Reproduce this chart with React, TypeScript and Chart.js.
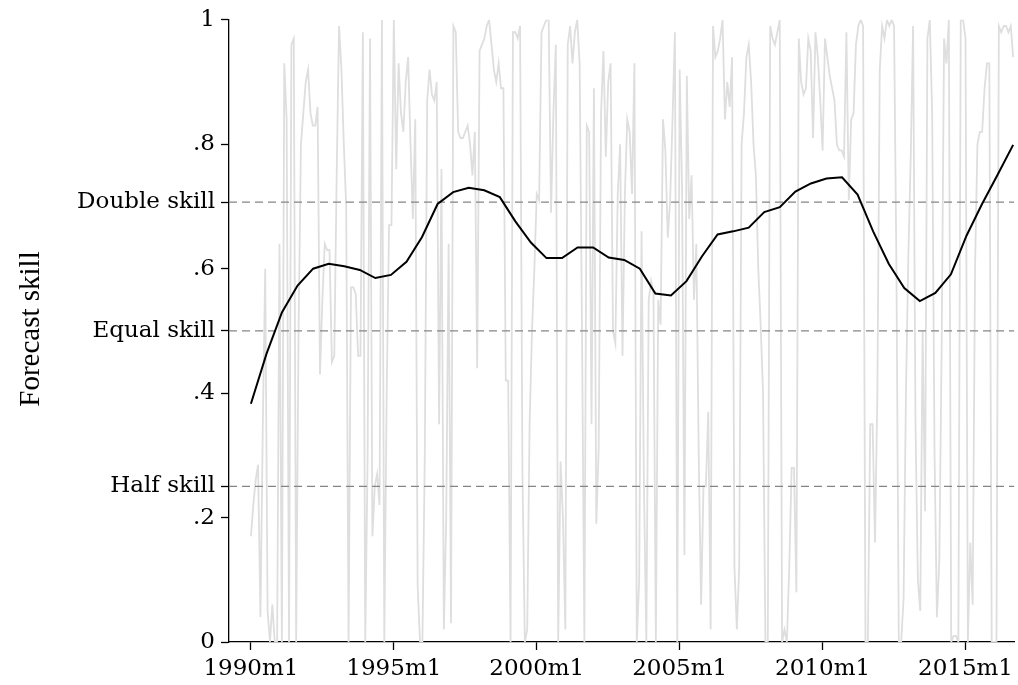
import React, { useEffect, useRef } from "react";
import { Chart, registerables } from "chart.js";

Chart.register(...registerables);

// Monthly forecast skill, one value per month starting 1990m1 (index 0 = 1990m1)
const monthlySkill: number[] = [
  0.17, 0.22, 0.26, 0.285, 0.04, 0.35, 0.60, 0.05, 0.0, 0.06,
  0.0, 0.0, 0.64, 0.0, 0.93, 0.84, 0.0, 0.96, 0.97, 0.0,
  0.50, 0.80, 0.85, 0.90, 0.92, 0.85, 0.83, 0.83, 0.86, 0.43,
  0.55, 0.64, 0.63, 0.63, 0.45, 0.46, 0.75, 0.99, 0.92, 0.80,
  0.70, 0.0, 0.57, 0.57, 0.56, 0.46, 0.46, 0.98, 0.0, 0.30,
  0.97, 0.17, 0.25, 0.27, 0.22, 1.0, 0.0, 0.40, 0.67, 0.67,
  1.0, 0.76, 0.93, 0.85, 0.82, 0.90, 0.94, 0.80, 0.68, 0.84,
  0.09, 0.0, 0.0, 0.30, 0.87, 0.92, 0.88, 0.87, 0.90, 0.35,
  0.76, 0.02, 0.20, 0.64, 0.03, 0.99, 0.98, 0.82, 0.81, 0.81,
  0.82, 0.83, 0.80, 0.75, 0.82, 0.44, 0.95, 0.96, 0.97, 0.99,
  1.0, 0.96, 0.92, 0.90, 0.93, 0.89, 0.89, 0.42, 0.42, 0.0,
  0.98, 0.98, 0.97, 0.99, 0.27, 0.0, 0.02, 0.35, 0.50, 0.60,
  0.72, 0.71, 0.98, 0.99, 1.0, 1.0, 0.69, 0.85, 0.96, 0.0,
  0.29, 0.20, 0.02, 0.96, 0.99, 0.93, 0.98, 1.0, 0.93, 0.50,
  0.0, 0.83, 0.82, 0.35, 0.89, 0.19, 0.31, 0.85, 0.95, 0.78,
  0.90, 0.93, 0.50, 0.48, 0.72, 0.80, 0.46, 0.72, 0.84, 0.82,
  0.72, 0.93, 0.0, 0.10, 0.66, 0.25, 0.0, 0.55, 0.58, 0.56,
  0.0, 0.55, 0.51, 0.84, 0.79, 0.65, 0.71, 0.84, 0.98, 0.0,
  0.92, 0.73, 0.14, 0.91, 0.68, 0.75, 0.55, 0.64, 0.30, 0.06,
  0.25, 0.25, 0.37, 0.02, 0.99, 0.94, 0.95, 0.97, 1.0, 0.84,
  0.90, 0.86, 0.94, 0.12, 0.02, 0.12, 0.80, 0.85, 0.94, 0.96,
  0.90, 0.80, 0.75, 0.60, 0.51, 0.40, 0.0, 0.0, 0.99, 0.97,
  0.96, 0.98, 1.0, 0.0, 0.02, 0.0, 0.12, 0.28, 0.28, 0.08,
  0.97, 0.90, 0.88, 0.89, 0.97, 0.95, 0.81, 0.98, 0.94, 0.87,
  0.79, 0.97, 0.94, 0.91, 0.89, 0.87, 0.80, 0.79, 0.79, 0.78,
  0.98, 0.71, 0.84, 0.85, 0.96, 0.99, 1.0, 0.99, 0.0, 0.0,
  0.35, 0.35, 0.16, 0.40, 0.92, 0.99, 0.97, 1.0, 0.99, 1.0,
  0.99, 0.60, 0.0, 0.0, 0.07, 0.40, 0.62, 0.78, 0.99, 0.35,
  0.10, 0.05, 0.50, 0.21, 0.97, 1.0, 0.85, 0.30, 0.04, 0.13,
  0.48, 0.97, 0.93, 1.0, 0.0, 0.01, 0.01, 0.0, 1.0, 1.0,
  0.97, 0.0, 0.16, 0.06, 0.60, 0.80, 0.82, 0.82, 0.89, 0.93,
  0.93, 0.0, 0.0, 0.0, 0.99, 0.98, 0.99, 0.99, 0.98, 0.99, 0.94,
];

// Smoothed curve (local polynomial evaluated on 50 grid points), month index
const smoothMonths: number[] = [
  0, 6.53, 13.06, 19.59, 26.12, 32.65, 39.18, 45.71, 52.24, 58.78,
  65.31, 71.84, 78.37, 84.9, 91.43, 97.96, 104.49, 111.02, 117.55, 124.08,
  130.61, 137.14, 143.67, 150.2, 156.73, 163.27, 169.8, 176.33, 182.86, 189.39,
  195.92, 202.45, 208.98, 215.51, 222.04, 228.57, 235.1, 241.63, 248.16, 254.69,
  261.22, 267.76, 274.29, 280.82, 287.35, 293.88, 300.41, 306.94, 313.47, 320,
];
const smoothSkill: number[] = [
  0.383, 0.463, 0.53, 0.573, 0.6, 0.608, 0.604, 0.598, 0.585, 0.59,
  0.611, 0.651, 0.704, 0.723, 0.73, 0.726, 0.715, 0.676, 0.642, 0.617,
  0.617, 0.634, 0.634, 0.618, 0.614, 0.6, 0.56, 0.557, 0.58, 0.62,
  0.655, 0.66, 0.666, 0.691, 0.699, 0.724, 0.737, 0.745, 0.747, 0.719,
  0.66, 0.608, 0.569, 0.548, 0.561, 0.591, 0.653, 0.704, 0.751, 0.799,
];

// Reference lines
const refValues: number[] = [0.25, 0.5, 0.7071];

// Axis ticks
const xTickMonths: number[] = [0, 60, 120, 180, 240, 300];
const xTickLabels: string[] = ["1990m1", "1995m1", "2000m1", "2005m1", "2010m1", "2015m1"];
const yTickValues: number[] = [0, 0.2, 0.25, 0.4, 0.5, 0.6, 0.7071, 0.8, 1];
const yTickLabels: string[] = ["0", ".2", "Half skill", ".4", "Equal skill", ".6", "Double skill", ".8", "1"];

const X_MIN = -9.2;
const X_MAX = 320.5;
const TICK_FONT = { family: "'DejaVu Serif', serif", size: 23 };

const titlePlugin = {
  id: "yTitle",
  afterDraw(chart: any) {
    const ctx = chart.ctx;
    ctx.save();
    ctx.translate(39, 329);
    ctx.rotate(-Math.PI / 2);
    ctx.font = "29px 'Liberation Serif', serif";
    ctx.fillStyle = "#000";
    ctx.textAlign = "center";
    ctx.textBaseline = "alphabetic";
    ctx.fillText("Forecast skill", 0, 0);
    ctx.restore();
  },
};

export default function App() {
  const canvasRef = useRef<HTMLCanvasElement | null>(null);

  useEffect(() => {
    if (!canvasRef.current) return;
    const greyPts = monthlySkill.map((v, i) => ({ x: i, y: v }));
    const smoothPts = smoothSkill.map((v, i) => ({ x: smoothMonths[i], y: v }));
    const refSets = refValues.map((v) => ({
      data: [
        { x: X_MIN, y: v },
        { x: X_MAX, y: v },
      ],
      borderColor: "#858585",
      borderWidth: 1.2,
      borderDash: [8, 5],
      pointRadius: 0,
      tension: 0,
      order: 2,
    }));

    const chart = new Chart(canvasRef.current, {
      type: "line",
      data: {
        datasets: [
          {
            data: greyPts,
            borderColor: "#dedede",
            borderWidth: 1.8,
            pointRadius: 0,
            tension: 0,
            order: 3,
          },
          ...refSets,
          {
            data: smoothPts,
            borderColor: "#000000",
            borderWidth: 2,
            pointRadius: 0,
            tension: 0,
            order: 1,
          },
        ],
      } as any,
      options: {
        responsive: false,
        animation: false,
        devicePixelRatio: 1,
        layout: { padding: { top: 15, left: 0, right: 0, bottom: 0 } },
        plugins: { legend: { display: false }, tooltip: { enabled: false } },
        scales: {
          x: {
            type: "linear",
            min: X_MIN,
            max: X_MAX,
            afterBuildTicks: (s: any) => {
              s.ticks = xTickMonths.map((v) => ({ value: v }));
            },
            afterFit: (s: any) => {
              s.height = 43;
            },
            ticks: {
              autoSkip: false,
              maxRotation: 0,
              color: "#000",
              font: TICK_FONT,
              padding: 5,
              callback: (_v: any, i: number) => xTickLabels[i],
            },
            grid: {
              drawOnChartArea: false,
              drawTicks: true,
              tickLength: 8,
              tickColor: "#000",
              tickWidth: 1.3,
            },
            border: { display: true, color: "#000", width: 1.3 },
          },
          y: {
            type: "linear",
            min: 0,
            max: 1,
            afterBuildTicks: (s: any) => {
              s.ticks = yTickValues.map((v) => ({ value: v }));
            },
            afterFit: (s: any) => {
              s.width = 229;
            },
            ticks: {
              autoSkip: false,
              color: "#000",
              font: TICK_FONT,
              padding: 6,
              callback: (_v: any, i: number) => yTickLabels[i],
            },
            grid: {
              drawOnChartArea: false,
              drawTicks: true,
              tickLength: 8,
              tickColor: "#000",
              tickWidth: 1.3,
            },
            border: { display: true, color: "#000", width: 1.3 },
          },
        },
      } as any,
      plugins: [titlePlugin],
    });
    return () => chart.destroy();
  }, []);

  return (
    <div style={{ position: "fixed", left: 0, top: 0, width: 1018, height: 685, background: "#fff" }}>
      <canvas ref={canvasRef} width={1018} height={685} style={{ display: "block" }} />
    </div>
  );
}
